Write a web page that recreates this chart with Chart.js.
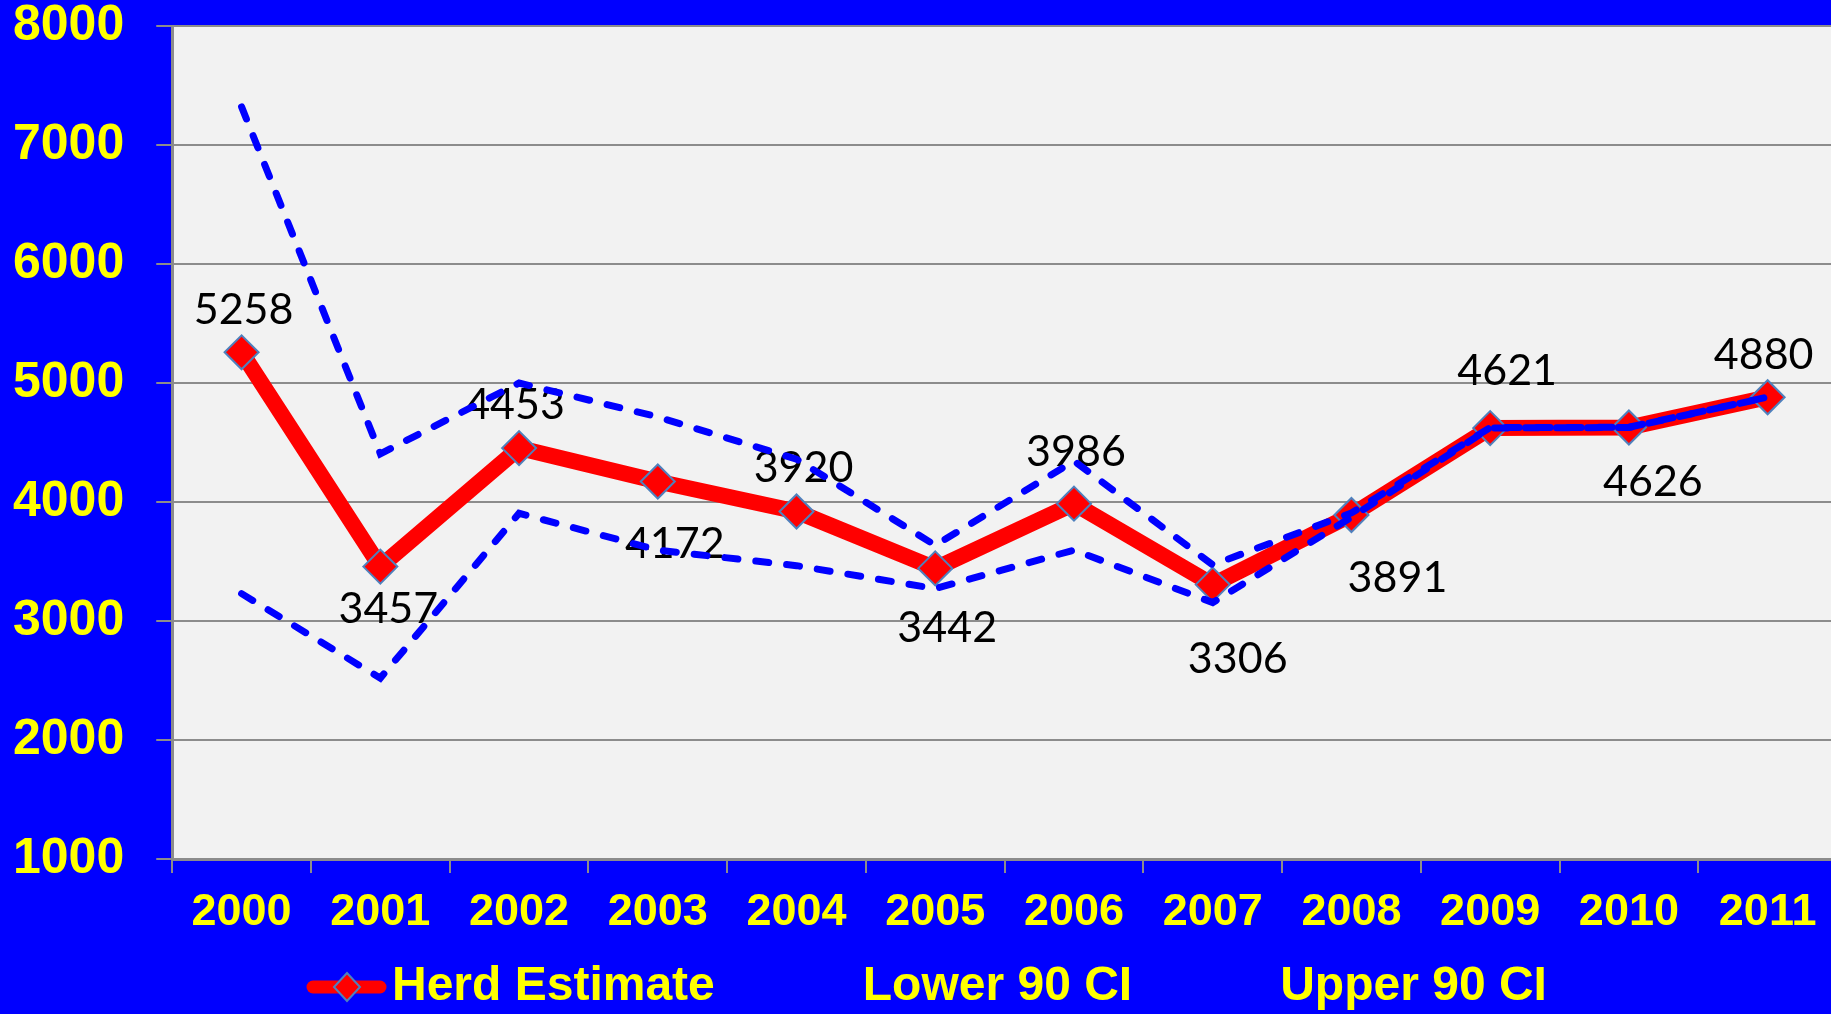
<!DOCTYPE html>
<html lang="en">

<head>
    <meta charset="UTF-8">
    <title>Herd Estimate</title>
    <script src="https://cdn.jsdelivr.net/npm/chart.js"></script>
    <style>
        html, body { margin: 0; padding: 0; background: #0000ff; overflow: hidden; }
        /* the plot runs a little past the right edge of the picture */
        .chart-box { width: 1831px; height: 1014px; overflow: hidden; }
    </style>
</head>

<body>
    <div class="chart-box">
        <canvas id="chart1" width="1856" height="1014"></canvas>
    </div>

<script>
    const years = ['2000', '2001', '2002', '2003', '2004', '2005', '2006', '2007', '2008', '2009', '2010', '2011'];
    const herdEstimate = [5258, 3457, 4453, 4172, 3920, 3442, 3986, 3306, 3891, 4621, 4626, 4880];
    const lower90 = [3230, 2520, 3905, 3596, 3465, 3272, 3596, 3155, 3872, 4622, 4626, 4880];
    const upper90 = [7320, 4405, 5000, 4715, 4360, 3636, 4345, 3472, 3908, 4625, 4628, 4882];
    const yTicks = [1000, 2000, 3000, 4000, 5000, 6000, 7000, 8000];

    // where each value label sits relative to its point, in px
    const labelShift = [[2, -42], [8, 43], [-4, -43], [17, 63], [7, -43], [12, 60],
                        [2, -52], [25, 75], [46, 63], [17, -57], [24, 55], [-4, -42]];

    const yellowFont = '"Liberation Sans", Arial, sans-serif';

    // grey plot area
    const plotBackground = {
        id: 'plotBackground',
        beforeDraw(chart) {
            const { ctx, chartArea } = chart;
            ctx.save();
            ctx.fillStyle = '#f2f2f2';
            ctx.fillRect(chartArea.left, chartArea.top, chartArea.right - chartArea.left, chartArea.bottom - chartArea.top);
            ctx.restore();
        }
    };

    // numbers next to the herd estimate points
    const valueLabels = {
        id: 'valueLabels',
        afterDatasetDraw(chart, args) {
            if (args.index !== 0) return;
            const ctx = chart.ctx;
            ctx.save();
            ctx.font = '43px Lato, "Open Sans", sans-serif';
            ctx.fillStyle = '#000000';
            ctx.textAlign = 'center';
            ctx.textBaseline = 'middle';
            args.meta.data.forEach(function (pt, i) {
                ctx.fillText(String(herdEstimate[i]), pt.x + labelShift[i][0], pt.y + labelShift[i][1]);
            });
            ctx.restore();
        }
    };

    // legend row under the axis (line sample + text)
    const bottomLegend = {
        id: 'bottomLegend',
        afterDraw(chart) {
            const ctx = chart.ctx;
            const y = 987;
            let x = 306;
            ctx.save();
            ctx.font = 'bold 48px ' + yellowFont;
            ctx.textBaseline = 'middle';
            chart.data.datasets.forEach(function (ds, i) {
                ctx.lineCap = 'round';
                ctx.strokeStyle = ds.borderColor;
                if (i === 0) {
                    ctx.lineWidth = 13;
                    ctx.beginPath();
                    ctx.moveTo(x + 7, y);
                    ctx.lineTo(x + 74, y);
                    ctx.stroke();
                    ctx.beginPath();
                    ctx.moveTo(x + 41, y - 14);
                    ctx.lineTo(x + 54, y);
                    ctx.lineTo(x + 41, y + 14);
                    ctx.lineTo(x + 28, y);
                    ctx.closePath();
                    ctx.fillStyle = ds.pointBackgroundColor;
                    ctx.fill();
                    ctx.lineWidth = 2;
                    ctx.strokeStyle = ds.pointBorderColor;
                    ctx.stroke();
                } else {
                    ctx.lineWidth = ds.borderWidth;
                    ctx.setLineDash(ds.borderDash);
                    ctx.beginPath();
                    ctx.moveTo(x + 7, y);
                    ctx.lineTo(x + 74, y);
                    ctx.stroke();
                    ctx.setLineDash([]);
                }
                ctx.fillStyle = '#ffff00';
                ctx.fillText(ds.label, x + 86, y);
                x += 86 + ctx.measureText(ds.label).width + 62;
            });
            ctx.restore();
        }
    };

    // the scales should not push the plot area in for their end labels
    function noEndPadding(scale) {
        scale.paddingTop = 0;
        scale.paddingBottom = 0;
        scale.paddingLeft = 0;
        scale.paddingRight = 0;
    }

    new Chart(document.getElementById('chart1'), {
        type: 'line',
        data: {
            labels: years,
            datasets: [{
                label: 'Herd Estimate',
                data: herdEstimate,
                order: 2,
                borderColor: '#ff0000',
                borderWidth: 16,
                borderJoinStyle: 'round',
                pointStyle: 'rectRot',
                pointRadius: 17,
                pointHoverRadius: 17,
                pointBackgroundColor: '#ff0000',
                pointBorderColor: '#4f81bd',
                pointBorderWidth: 2,
                tension: 0
            }, {
                label: 'Lower 90 CI',
                data: lower90,
                order: 1,
                borderColor: '#0000ff',
                borderWidth: 7,
                borderDash: [13, 18],
                borderCapStyle: 'round',
                pointRadius: 0,
                tension: 0
            }, {
                label: 'Upper 90 CI',
                data: upper90,
                order: 1,
                borderColor: '#0000ff',
                borderWidth: 7,
                borderDash: [13, 18],
                borderCapStyle: 'round',
                pointRadius: 0,
                tension: 0
            }]
        },
        options: {
            responsive: false,
            animation: false,
            layout: { padding: { top: 26, left: -19, right: 0, bottom: 61 } },
            plugins: {
                legend: { display: false },
                tooltip: { enabled: false }
            },
            scales: {
                x: {
                    offset: true,
                    afterFit: noEndPadding,
                    grid: { offset: true, drawOnChartArea: false, color: '#8c8c8c', lineWidth: 2, tickLength: 14 },
                    border: { color: '#8c8c8c', width: 3 },
                    ticks: {
                        color: '#ffff00',
                        padding: 13,
                        maxRotation: 0,
                        autoSkip: false,
                        font: { family: yellowFont, size: 45, weight: 'bold', lineHeight: 1.2 }
                    }
                },
                y: {
                    min: 1000,
                    max: 8000,
                    afterBuildTicks: function (axis) {
                        axis.ticks = yTicks.map(function (v) { return { value: v }; });
                    },
                    afterFit: noEndPadding,
                    grid: { color: '#8c8c8c', lineWidth: 2, tickLength: 16 },
                    border: { color: '#8c8c8c', width: 3 },
                    ticks: {
                        color: '#ffff00',
                        padding: 32,
                        callback: function (value) { return String(value); },
                        font: { family: yellowFont, size: 50, weight: 'bold', lineHeight: 1 }
                    }
                }
            }
        },
        plugins: [plotBackground, valueLabels, bottomLegend]
    });
</script>
</body>

</html>
